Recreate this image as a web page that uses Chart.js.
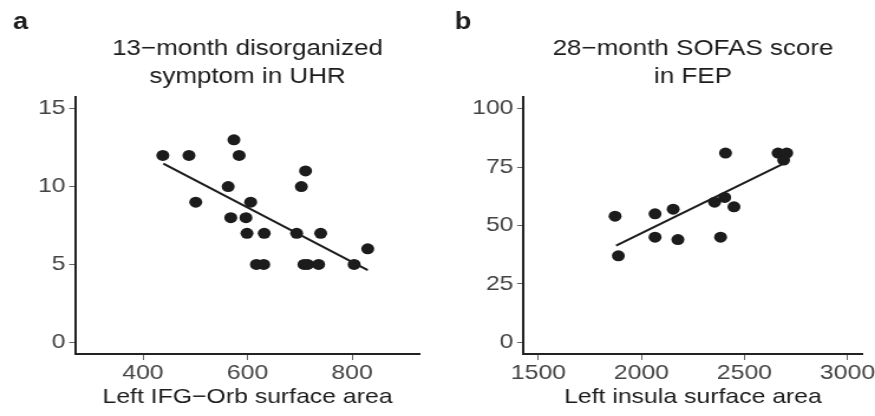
<!doctype html>
<html lang="en">
<head>
<meta charset="utf-8">
<script src="https://cdn.jsdelivr.net/npm/chart.js"></script>
<style>
  html, body { margin: 0; padding: 0; background: #fff; }
  body { width: 875px; height: 416px; position: relative; overflow: hidden; }
  canvas { position: absolute; top: 0; }
</style>
</head>
<body>
<!-- the reference is stretched sideways, so each canvas is drawn narrow and widened by css -->
<canvas id="chartA" width="370" height="416" style="left:0px;width:437px;height:416px"></canvas>
<canvas id="chartB" width="371" height="416" style="left:437px;width:438px;height:416px"></canvas>
<script>
// panel a: UHR
const uhrX = [438, 488, 501, 574, 584, 563, 568, 597, 606, 599, 632, 617, 631, 694, 703, 711, 708, 715, 736, 740, 804, 830];
const uhrY = [12, 12, 9, 13, 12, 10, 8, 8, 9, 7, 7, 5, 5, 7, 10, 11, 5, 5, 5, 7, 5, 6];
const uhrFitX = [439, 830];
const uhrFitY = [11.47, 4.64];
const uhrXTicks = [400, 600, 800];
const uhrYTicks = [0, 5, 10, 15];

// panel b: FEP
const fepX = [1872, 1888, 2066, 2066, 2154, 2177, 2355, 2384, 2404, 2408, 2449, 2663, 2690, 2705];
const fepY = [54, 37, 55, 45, 57, 44, 60, 45, 62, 81, 58, 81, 78, 81];
const fepFitX = [1877, 2682];
const fepFitY = [41.4, 76.2];
const fepXTicks = [1500, 2000, 2500, 3000];
const fepYTicks = [0, 25, 50, 75, 100];

const FONT = '"Liberation Sans", Arial, sans-serif';
const INK = '#1c1c1c';

const headPlugin = {
  id: 'panelHead',
  afterDraw(chart, args, opts) {
    const ctx = chart.ctx;
    const area = chart.chartArea;
    ctx.save();
    ctx.fillStyle = INK;
    ctx.textBaseline = 'alphabetic';
    ctx.textAlign = 'left';
    ctx.font = 'bold 23px ' + FONT;
    ctx.fillText(opts.letter, opts.letterX, 29);
    ctx.textAlign = 'center';
    ctx.font = '22px ' + FONT;
    const cx = (area.left + area.right) / 2;
    opts.lines.forEach((t, i) => ctx.fillText(t, cx, 55 + i * 28));
    ctx.restore();
  }
};

function pts(xs, ys) {
  return xs.map((x, i) => ({ x: x, y: ys[i] }));
}

function makeChart(id, o) {
  new Chart(document.getElementById(id), {
    type: 'scatter',
    data: {
      datasets: [{
        data: pts(o.x, o.y),
        backgroundColor: INK,
        borderColor: INK,
        pointRadius: 5.5,
        pointHoverRadius: 5.5,
        borderWidth: 0
      }, {
        data: pts(o.fitX, o.fitY),
        showLine: true,
        borderColor: INK,
        borderWidth: 2,
        pointRadius: 0
      }]
    },
    plugins: [headPlugin],
    options: {
      responsive: false,
      devicePixelRatio: 1,
      animation: false,
      events: [],
      layout: { padding: { left: 0, right: o.padRight, top: 97, bottom: 0 } },
      plugins: {
        legend: { display: false },
        tooltip: { enabled: false },
        panelHead: { letter: o.letter, letterX: o.letterX, lines: o.lines }
      },
      scales: {
        x: {
          type: 'linear',
          min: o.xMin, max: o.xMax,
          afterBuildTicks: (ax) => { ax.ticks = o.xTicks.map(v => ({ value: v })); },
          afterFit: (ax) => { ax.height = 62; ax.paddingLeft = 0; ax.paddingRight = 0; },
          ticks: {
            font: { family: FONT, size: 21 }, color: '#444', padding: 1, maxRotation: 0,
            callback: (v) => String(v)
          },
          grid: { drawOnChartArea: false, drawTicks: true, tickLength: 6, color: '#666', lineWidth: 1 },
          border: { display: true, color: '#222', width: 2 },
          title: {
            display: true, text: o.xTitle, color: INK,
            font: { family: FONT, size: 21 }, padding: { top: 0, bottom: 6 }
          }
        },
        y: {
          type: 'linear',
          min: o.yMin, max: o.yMax,
          afterBuildTicks: (ax) => { ax.ticks = o.yTicks.map(v => ({ value: v })); },
          afterFit: (ax) => { ax.width = o.yWidth; ax.paddingTop = 0; ax.paddingBottom = 0; },
          ticks: {
            font: { family: FONT, size: 21 }, color: '#444', padding: 3,
            callback: (v) => String(v)
          },
          grid: { drawOnChartArea: false, drawTicks: true, tickLength: 5, color: '#666', lineWidth: 1 },
          border: { display: true, color: '#222', width: 2 }
        }
      }
    }
  });
}

makeChart('chartA', {
  x: uhrX, y: uhrY, fitX: uhrFitX, fitY: uhrFitY,
  xTicks: uhrXTicks, yTicks: uhrYTicks,
  xMin: 270, xMax: 930, yMin: -0.75, yMax: 15.75,
  yWidth: 63.5, padRight: 14.4,
  letter: 'a', letterX: 11,
  lines: ['13\u2212month disorganized', 'symptom in UHR'],
  xTitle: 'Left IFG\u2212Orb surface area'
});

makeChart('chartB', {
  x: fepX, y: fepY, fitX: fepFitX, fitY: fepFitY,
  xTicks: fepXTicks, yTicks: fepYTicks,
  xMin: 1425, xMax: 3075, yMin: -5, yMax: 105,
  yWidth: 72.8, padRight: 10.2,
  letter: 'b', letterX: 15,
  lines: ['28\u2212month SOFAS score', 'in FEP'],
  xTitle: 'Left insula surface area'
});
</script>
</body>
</html>
